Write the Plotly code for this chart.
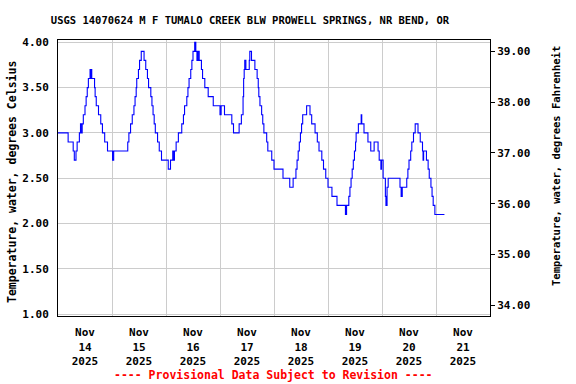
import pandas as pd
import plotly.graph_objects as go

# ---- data ----
title_text = "USGS 14070624 M F TUMALO CREEK BLW PROWELL SPRINGS, NR BEND, OR"
start_date = "2025-11-14"

# hours since 2025-11-14 00:00 at which the reading changes
hours = [
    0, 4.5, 6.75, 7.25, 8.0, 8.5, 9.5, 10, 10.5, 10.75,
    11.25, 12, 12.5, 13, 13.5, 14.25, 14.5, 14.75, 15, 16.25,
    16.5, 17, 18, 19, 19.75, 20.75, 22, 24.25, 24.75, 31,
    31.5, 32.25, 33, 33.75, 34.25, 34.75, 35, 35.75, 36.25, 37,
    38.25, 39, 39.75, 40.25, 41.25, 41.75, 42.25, 42.75, 43.25, 44.25,
    45, 46, 49, 50, 51, 51.25, 51.75, 52.5, 53.5, 55,
    55.75, 56.25, 57.25, 57.75, 58.25, 59, 59.5, 60, 60.75, 61.25,
    61.75, 62.25, 62.75, 63.75, 64.25, 65.25, 66.75, 69, 72, 72.5,
    74, 77.25, 78, 80.5, 81.5, 82.25, 82.5, 82.75, 83, 83.5,
    85, 85.25, 86, 87.5, 88.5, 89, 89.25, 89.75, 90.5, 91,
    91.5, 92.75, 93.25, 95, 96, 100, 103, 104.5, 105.75, 106.25,
    106.75, 107.25, 107.75, 108.25, 108.75, 110.5, 112, 112.75, 114.25, 115.25,
    116, 117.25, 118, 119, 120, 121.75, 124, 127.75, 128.25, 129.25,
    129.75, 130.25, 130.75, 131.25, 131.75, 132.25, 132.5, 133.5, 134.75, 135,
    136, 137.75, 139, 140.5, 142.25, 142.75, 143.5, 143.75, 144.5, 145.5,
    145.75, 146.25, 146.75, 152, 152.5, 153, 155, 155.5, 156, 156.75,
    157.25, 158, 158.75, 160, 161, 162, 162.25, 162.5, 163.75, 164.5,
    165, 165.75, 166.25, 166.75, 167.5, 171.75,
]
temp_c = [
    3.0, 2.9, 2.8, 2.7, 2.8, 2.9, 3.0, 3.1, 3.0, 3.1,
    3.2, 3.3, 3.4, 3.5, 3.6, 3.7, 3.6, 3.7, 3.6, 3.5,
    3.4, 3.3, 3.2, 3.1, 3.0, 2.9, 2.8, 2.7, 2.8, 2.9,
    3.0, 3.1, 3.2, 3.3, 3.4, 3.5, 3.6, 3.7, 3.8, 3.9,
    3.8, 3.7, 3.6, 3.5, 3.4, 3.3, 3.2, 3.1, 3.0, 2.9,
    2.8, 2.7, 2.6, 2.7, 2.8, 2.7, 2.8, 2.9, 3.0, 3.1,
    3.2, 3.3, 3.4, 3.5, 3.6, 3.7, 3.8, 3.9, 4.0, 3.9,
    3.8, 3.9, 3.8, 3.7, 3.6, 3.5, 3.4, 3.3, 3.2, 3.3,
    3.2, 3.1, 3.0, 3.1, 3.2, 3.4, 3.6, 3.7, 3.8, 3.7,
    3.8, 3.9, 3.8, 3.7, 3.6, 3.5, 3.4, 3.3, 3.2, 3.1,
    3.0, 2.9, 2.8, 2.7, 2.6, 2.5, 2.4, 2.5, 2.6, 2.7,
    2.8, 2.9, 3.0, 3.1, 3.2, 3.3, 3.2, 3.1, 3.0, 2.9,
    2.8, 2.7, 2.6, 2.5, 2.4, 2.3, 2.2, 2.1, 2.2, 2.3,
    2.4, 2.5, 2.6, 2.7, 2.8, 2.9, 3.0, 3.1, 3.2, 3.1,
    3.0, 2.9, 2.8, 2.9, 2.8, 2.7, 2.6, 2.7, 2.5, 2.3,
    2.2, 2.4, 2.5, 2.4, 2.3, 2.4, 2.5, 2.6, 2.7, 2.8,
    2.9, 3.0, 3.1, 3.0, 2.9, 2.8, 2.7, 2.8, 2.7, 2.6,
    2.5, 2.4, 2.3, 2.2, 2.1, 2.1,
]

left_ticks = [1.0, 1.5, 2.0, 2.5, 3.0, 3.5, 4.0]
right_ticks = [34, 35, 36, 37, 38, 39]
day_labels = ["14", "15", "16", "17", "18", "19", "20", "21"]

# ---- build ----
base = pd.Timestamp(start_date)
times = [base + pd.Timedelta(hours=h) for h in hours]
temp_f = [c * 9 / 5 + 32 for c in temp_c]

label_pos = [base + pd.Timedelta(days=i, hours=12) for i in range(len(day_labels))]
label_txt = [f"Nov<br>{d}<br>2025" for d in day_labels]
midnights = [base + pd.Timedelta(days=i) for i in range(1, 8)]

FONT = "DejaVu Sans Mono"
grid = "#CCCCCC"

fig = go.Figure()
fig.add_trace(go.Scatter(
    x=times, y=temp_c, mode="lines",
    line=dict(color="#0000FF", width=1.1, shape="hv"),
    hoverinfo="skip", showlegend=False,
))
fig.add_trace(go.Scatter(
    x=times, y=temp_f, mode="lines", yaxis="y2",
    line=dict(color="rgba(0,0,0,0)", width=0),
    hoverinfo="skip", showlegend=False,
))

fig.update_layout(
    width=576, height=384,
    margin=dict(l=58, r=86, t=40, b=68),
    paper_bgcolor="white", plot_bgcolor="white",
    font=dict(family=FONT, size=11, color="black", weight="bold"),
    title=dict(
        text=title_text, x=250 / 576, xanchor="center", xref="container",
        y=1 - 20 / 384, yanchor="middle", yref="container",
        font=dict(family=FONT, size=10.5, color="black", weight="bold"),
    ),
    xaxis=dict(
        type="date",
        range=[base, base + pd.Timedelta(days=8)],
        tickmode="array", tickvals=label_pos, ticktext=label_txt,
        ticks="", showgrid=False, zeroline=False, ticklabelstandoff=6,
        showline=True, mirror=True, linecolor="black", linewidth=1,
        minor=dict(tickmode="array", tickvals=midnights, showgrid=True,
                   gridcolor=grid, gridwidth=1, ticks=""),
        tickfont=dict(family=FONT, size=11, color="black", weight="bold"),
    ),
    yaxis=dict(
        range=[0.98, 4.025],
        tickmode="array", tickvals=left_ticks, tickformat=".2f",
        showgrid=True, gridcolor=grid, gridwidth=1, zeroline=False,
        showline=True, mirror=True, linecolor="black", linewidth=1,
        ticks="", ticklabelstandoff=6,
        tickfont=dict(family=FONT, size=11, color="black", weight="bold"),
    ),
    yaxis2=dict(
        overlaying="y", side="right",
        range=[33.79, 39.22],
        tickmode="array", tickvals=right_ticks,
        ticktext=[f"{v:.2f}" for v in right_ticks],
        showgrid=False, zeroline=False,
        showline=True, linecolor="black", linewidth=1,
        ticks="outside", ticklen=4, tickcolor="black",
        tickfont=dict(family=FONT, size=11, color="black", weight="bold"),
    ),
    annotations=[
        dict(text="Temperature, water, degrees Celsius", textangle=-90,
             xref="paper", yref="paper", x=(12 - 58) / 432, y=1 - (182 - 40) / 276,
             xanchor="center", yanchor="middle", showarrow=False,
             font=dict(family=FONT, size=11.5, color="black", weight="bold")),
        dict(text="Temperature, water, degrees Fahrenheit", textangle=-90,
             xref="paper", yref="paper", x=(556 - 58) / 432, y=1 - (166 - 40) / 276,
             xanchor="center", yanchor="middle", showarrow=False,
             font=dict(family=FONT, size=10.5, color="black", weight="bold")),
        dict(text="---- Provisional Data Subject to Revision ----",
             xref="paper", yref="paper", x=(273 - 58) / 432, y=-(375 - 316) / 276,
             xanchor="center", yanchor="middle", showarrow=False,
             font=dict(family=FONT, size=11.5, color="#FF0000", weight="bold")),
    ],
)

fig.write_html(
    "out.html",
    config={"displayModeBar": False},
    post_script="document.body.style.margin='0';document.body.style.overflow='hidden';",
)
